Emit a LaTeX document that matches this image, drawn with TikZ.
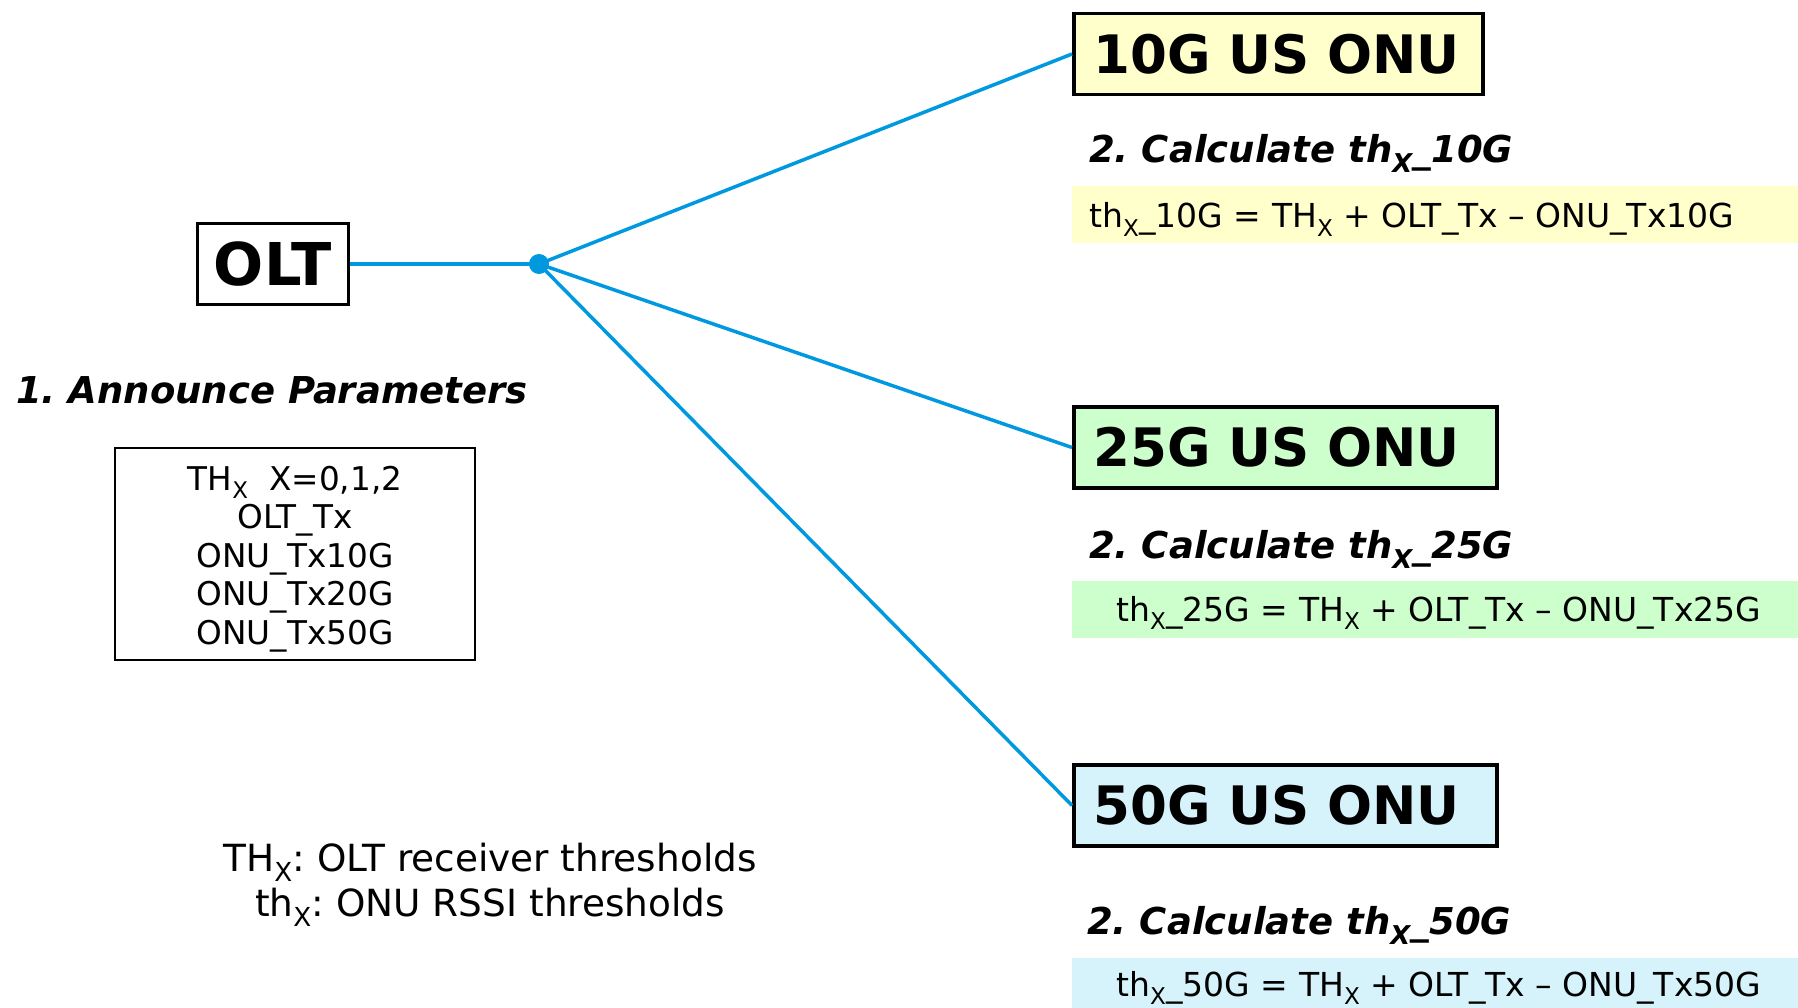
\documentclass[tikz,border=0pt]{standalone}
\usepackage{fontspec}
\setmainfont{DejaVu Sans}
\frenchspacing
\usetikzlibrary{positioning}
\definecolor{linkblue}{RGB}{0,153,224}
\definecolor{onuyellow}{RGB}{255,255,204}
\definecolor{onugreen}{RGB}{204,255,204}
\definecolor{onucyan}{RGB}{214,243,252}
\tikzset{link/.style={linkblue, line width=3.5pt},
  unitbox/.style={draw=black, line width=3.5pt, inner sep=0pt, minimum height=81pt, font=\fontsize{53}{60}\selectfont\bfseries},
  onubox/.style={unitbox, anchor=west, align=left, text width=#1, inner xsep=20pt},
  band/.style={anchor=west, minimum width=726pt, minimum height=57pt, inner sep=0pt, fill=#1},
  steplabel/.style={anchor=base west, inner sep=0pt, font=\fontsize{37}{44}\selectfont\bfseries\itshape},
  formula/.style={anchor=base west, inner sep=0pt, font=\fontsize{33}{40}\selectfont}}

\begin{document}
\begin{tikzpicture}[x=1pt, y=-1pt]
  \useasboundingbox (0,0) rectangle (1798,1008);
  % OLT side
  \node[unitbox, minimum width=151pt, font=\fontsize{59}{66}\selectfont\bfseries] (olt) at (273,264) {OLT};
  \node[circle, fill=linkblue, inner sep=0pt, minimum size=20pt] (split) at (539,264) {};
  \node[steplabel] (announce) at (16,403.5) {1. Announce Parameters};
  \node[draw, line width=2pt, minimum width=360pt, minimum height=212pt, align=center, font=\fontsize{32.7}{38.5}\selectfont] (params) at (295,554)
    {\rule{0pt}{34pt}TH\textsubscript{X}\ \ X=0,1,2\\OLT\_Tx\\ONU\_Tx10G\\ONU\_Tx20G\\ONU\_Tx50G};
  \node[align=center, font=\fontsize{37.4}{45}\selectfont] (legend) at (490,885)
    {TH\textsubscript{X}: OLT receiver thresholds\\th\textsubscript{X}: ONU RSSI thresholds};
  % ONU side
  \node[onubox=369pt, fill=onuyellow] (onu10) at (1072,54) {10G US ONU};
  \node[onubox=383pt, fill=onugreen] (onu25) at (1072,447.5) {25G US ONU};
  \node[onubox=383pt, fill=onucyan] (onu50) at (1072,805.5) {50G US ONU};
  \node[steplabel] (calc10) at (1089,162.5) {2. Calculate th\textsubscript{X}\_10G};
  \node[steplabel] (calc25) at (1089,558.5) {2. Calculate th\textsubscript{X}\_25G};
  \node[steplabel] (calc50) at (1087,934.5) {2. Calculate th\textsubscript{X}\_50G};
  \node[band=onuyellow] (band10) at (1072,214.5) {};
  \node[band=onugreen] (band25) at (1072,609) {};
  \node[band=onucyan] (band50) at (1072,986) {};
  \node[formula] (eq10) at (1089,228) {th\textsubscript{X}\_10G = TH\textsubscript{X} + OLT\_Tx – ONU\_Tx10G};
  \node[formula] (eq25) at (1116,621) {th\textsubscript{X}\_25G = TH\textsubscript{X} + OLT\_Tx – ONU\_Tx25G};
  \node[formula] (eq50) at (1116,996) {th\textsubscript{X}\_50G = TH\textsubscript{X} + OLT\_Tx – ONU\_Tx50G};
  % fibre links
  \draw[link] (olt.east) -- (split.center);
  \draw[link] (split.center) -- (onu10.west);
  \draw[link] (split.center) -- (onu25.west);
  \draw[link] (split.center) -- (onu50.west);
\end{tikzpicture}
\end{document}
